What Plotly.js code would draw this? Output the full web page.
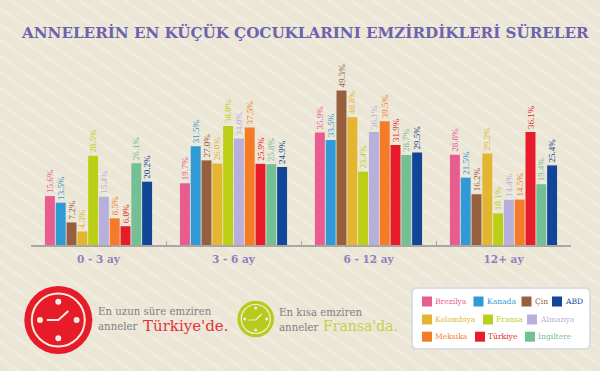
<!DOCTYPE html>
<html><head><meta charset="utf-8">
<script src="https://cdn.plot.ly/plotly-3.0.1.min.js"></script>
<style>
html,body{margin:0;padding:0;width:600px;height:371px;overflow:hidden;
background-color:#ebe6d6;
background-image:repeating-linear-gradient(35deg,#ebe6d6 0,#ebe6d6 9px,#efebdd 10px,#efebdd 12px,#ebe6d6 13px);}
#c{width:600px;height:371px}
</style></head><body><div id="c"></div>
<script>
const categories=['0 - 3 ay','3 - 6 ay','6 - 12 ay','12+ ay'];
const Brezilya=[15.6,19.7,35.9,28.8];
const Kanada=[13.5,31.5,33.5,21.5];
const Cin=[7.2,27.0,49.3,16.2];
const Kolombiya=[4.3,26.0,40.8,29.2];
const Fransa=[28.5,38.0,23.4,10.1];
const Almanya=[15.4,34.0,36.1,14.4];
const Meksika=[8.5,37.5,39.5,14.5];
const Turkiye=[6.0,25.9,31.9,36.1];
const Ingiltere=[26.1,25.8,28.7,19.4];
const ABD=[20.2,24.9,29.5,25.4];
const seriesNames=['Brezilya','Kanada','Çin','Kolombiya','Fransa','Almanya','Meksika','Türkiye','İngiltere','ABD'];
const seriesValues=[Brezilya,Kanada,Cin,Kolombiya,Fransa,Almanya,Meksika,Turkiye,Ingiltere,ABD];
const colors=['#e85c90','#2f9ad6','#96603f','#e3b632','#bccf17','#b7b0dc','#f47b28','#e81c28','#74c096','#114597'];
const legendRows=[[0,1,2,9],[3,4,5],[6,7,8]];
const legendX=[[422,473.5,521.5,552],[422,483,527],[422,475,525]];
const legendY=[301.5,319.5,336.7];

const M={l:31,r:29,t:57,b:126};
const W=600,H=371,pw=W-M.l-M.r,ph=H-M.t-M.b;
const X=p=>(p-M.l)/pw, Y=p=>(H-M.b-p)/ph;
const SERIF='"DejaVu Serif",serif';

const traces=seriesNames.map((n,i)=>({
  type:'bar',name:n,x:categories,y:seriesValues[i],
  marker:{color:colors[i]},
  text:seriesValues[i].map(v=>v.toFixed(1)+'%'),
  textposition:'outside',textangle:-90,cliponaxis:false,constraintext:'none',
  textfont:{family:'"Liberation Serif",serif',size:9,color:colors[i]},
  hoverinfo:'x+y+name'
}));

const shapes=[],ann=[];
const circle=(cx,cy,r,o)=>shapes.push(Object.assign({type:'circle',xref:'paper',yref:'paper',
  x0:X(cx-r),x1:X(cx+r),y0:Y(cy+r),y1:Y(cy-r)},o));
function clock(cx,cy,R,ring,dotR,dotD,hand,col,lw){
  const cream='#f3eee0';
  circle(cx,cy,R,{fillcolor:col,line:{width:0}});
  circle(cx,cy,ring,{fillcolor:'rgba(0,0,0,0)',line:{color:cream,width:lw}});
  [[0,-1],[0,1],[-1,0],[1,0]].forEach(d=>circle(cx+d[0]*dotD,cy+d[1]*dotD,dotR,{fillcolor:cream,line:{width:0}}));
  const path='M'+hand.map(h=>X(cx+h[0])+','+Y(cy+h[1])).join(' L');
  shapes.push({type:'path',xref:'paper',yref:'paper',path,line:{color:cream,width:lw}});
}
clock(58.3,320,34,26.5,3,18.3,[[-11.5,0],[0,0],[10,-9]],'#e81c28',2);
clock(255.7,319,18.3,14.5,1.5,11,[[-7,1],[0,1],[6,-5]],'#b5cb1d',1.2);

function label(x,y,text,size,color,family){
  ann.push({xref:'paper',yref:'paper',x:X(x),y:Y(y),xanchor:'left',yanchor:'middle',showarrow:false,
    text,align:'left',borderpad:0,font:{family:family||SERIF,size,color}});
}
label(97,311.5,'En uzun süre emziren',10.2,'#808080');
label(97,326.5,'anneler',10.2,'#808080');
label(142,326,"Türkiye'de.",15,'#e2333b');
label(278,312,'En kısa emziren',10.2,'#808080');
label(278,327,'anneler',10.2,'#808080');
label(322,326,"Fransa'da.",14,'#c0d24a');

// legend card
const bx0=412,bx1=590,by0=288,by1=349,rr=5;
shapes.push({type:'path',xref:'paper',yref:'paper',fillcolor:'#ffffff',line:{color:'#dcdce2',width:2},
  path:`M${X(bx0+rr)},${Y(by0)} L${X(bx1-rr)},${Y(by0)} Q${X(bx1)},${Y(by0)} ${X(bx1)},${Y(by0+rr)} L${X(bx1)},${Y(by1-rr)} Q${X(bx1)},${Y(by1)} ${X(bx1-rr)},${Y(by1)} L${X(bx0+rr)},${Y(by1)} Q${X(bx0)},${Y(by1)} ${X(bx0)},${Y(by1-rr)} L${X(bx0)},${Y(by0+rr)} Q${X(bx0)},${Y(by0)} ${X(bx0+rr)},${Y(by0)} Z`});
legendRows.forEach((row,r)=>row.forEach((s,k)=>{
  const x=legendX[r][k],y=legendY[r];
  shapes.push({type:'rect',xref:'paper',yref:'paper',x0:X(x),x1:X(x+10),y0:Y(y+5),y1:Y(y-5),fillcolor:colors[s],line:{width:0}});
  label(x+12,y,seriesNames[s],7.6,colors[s]);
}));

const layout={
  width:W,height:H,margin:M,showlegend:false,
  paper_bgcolor:'rgba(0,0,0,0)',plot_bgcolor:'rgba(0,0,0,0)',
  barmode:'group',bargap:0.2,bargroupgap:0.08,
  title:{text:'<b>ANNELERİN EN KÜÇÜK ÇOCUKLARINI EMZİRDİKLERİ SÜRELER</b>',
    x:22/W,xanchor:'left',y:1-33/H,yanchor:'middle',
    font:{family:SERIF,size:15.15,color:'#6b62b0'}},
  xaxis:{type:'category',showgrid:false,zeroline:false,showline:true,linecolor:'#aca6a2',linewidth:1.5,
    ticks:'inside',tickson:'boundaries',ticklen:4,tickcolor:'#aca6a2',tickwidth:1,ticklabelstandoff:4,
    tickfont:{family:SERIF,size:10.5,weight:'bold',color:'#8a81c0'}},
  yaxis:{range:[0,60],visible:false,fixedrange:true},
  shapes,annotations:ann
};
Plotly.newPlot('c',traces,layout,{displayModeBar:false,staticPlot:true});
</script></body></html>
